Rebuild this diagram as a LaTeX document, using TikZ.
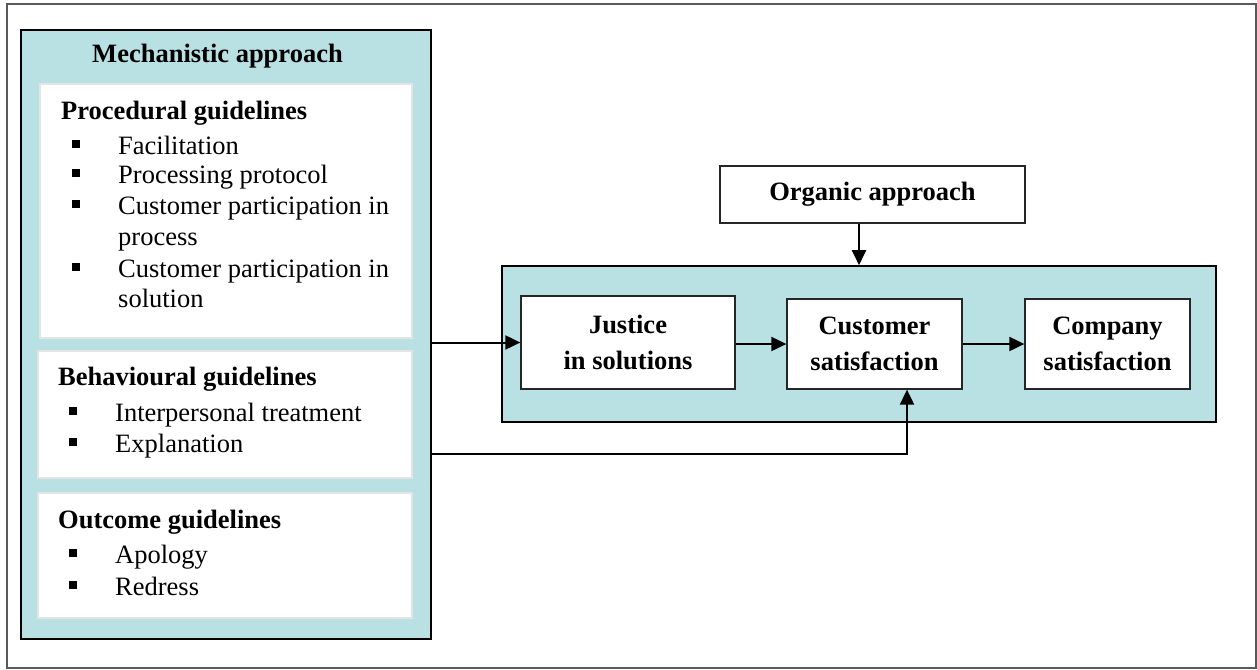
\documentclass[tikz,border=0pt]{standalone}
\usepackage{fontspec}
\setmainfont{Liberation Serif}
\usetikzlibrary{arrows.meta,calc}
\definecolor{teal}{RGB}{185,224,227}
\definecolor{wborder}{RGB}{228,228,228}
\begin{document}
\begin{tikzpicture}[x=1pt,y=-1pt,
  txt/.style={inner sep=0pt,anchor=base west,font=\fontsize{26.5}{30}\selectfont},
  head/.style={txt,font=\fontsize{26.5}{30}\selectfont\bfseries},
  bul/.style={fill=black,inner sep=0pt,minimum size=7.8pt},
  panel/.style={draw=black,line width=1.8pt,fill=teal,inner sep=0pt},
  wbox/.style={draw=wborder,line width=2pt,fill=white,inner sep=0pt},
  sbox/.style={draw=black!85,line width=1.3pt,fill=white,inner sep=0pt,align=center,
     font=\fontsize{26.5}{36}\selectfont\bfseries},
  arr/.style={line width=2pt,-{Triangle[length=15pt,width=14pt]}},
  ln/.style={line width=2pt}]
\useasboundingbox (0,0) rectangle (1257,669);
\node[draw=black!65,line width=1.8pt,inner sep=0pt,minimum width=1249pt,minimum height=664pt] (frame) at (631.5,336) {};
% left panel
\node[panel,minimum width=410pt,minimum height=609pt] (mech) at (226,334.5) {};
\node[wbox,minimum width=372pt,minimum height=254pt] (proc) at (226,211) {};
\node[wbox,minimum width=374pt,minimum height=127pt] (beh) at (225,414.5) {};
\node[wbox,minimum width=374pt,minimum height=125pt] (out) at (225,555.5) {};
\node[head,anchor=base] (tmech) at (217.5,63) {Mechanistic approach};
% procedural
\node[head] (tproc) at (61,119) {Procedural guidelines};
\node[bul] (b1) at (76,144) {}; \node[txt] (p1) at (118,154) {Facilitation};
\node[bul] (b2) at (76,173) {}; \node[txt] (p2) at (118,183) {Processing protocol};
\node[bul] (b3) at (76,204) {}; \node[txt] (p3) at (118,214) {Customer participation in};
\node[txt] (p3b) at (118,245) {process};
\node[bul] (b4) at (76,267) {}; \node[txt] (p4) at (118,277) {Customer participation in};
\node[txt] (p4b) at (118,307) {solution};
% behavioural
\node[head] (tbeh) at (58,385) {Behavioural guidelines};
\node[bul] (b5) at (73,411) {}; \node[txt] (q1) at (115,421) {Interpersonal treatment};
\node[bul] (b6) at (73,442) {}; \node[txt] (q2) at (115,452) {Explanation};
% outcome
\node[head] (tout) at (58,528) {Outcome guidelines};
\node[bul] (b7) at (73,553) {}; \node[txt] (r1) at (115,563) {Apology};
\node[bul] (b8) at (73,585) {}; \node[txt] (r2) at (115,595) {Redress};
% right side
\node[sbox,minimum width=305pt,minimum height=57pt] (org) at (872.5,194.5) {Organic approach};
\node[panel,line width=1.6pt,minimum width=714pt,minimum height=156pt] (big) at (859,344) {};
\node[sbox,minimum width=214pt,minimum height=93pt] (just) at (628,342.5) {Justice\\in solutions};
\node[sbox,minimum width=175pt,minimum height=90pt] (cust) at (874.5,344) {Customer\\satisfaction};
\node[sbox,minimum width=165pt,minimum height=90pt] (comp) at (1107.5,344) {Company\\satisfaction};
% connectors
\coordinate (oa) at ([xshift=-13.5pt]org.south);
\draw[arr] (oa) -- (oa |- big.north);
\draw[arr] (mech.east |- just.west) -- (just.west);
\draw[arr] (just.east |- cust.west) -- (cust.west);
\draw[arr] (cust.east) -- (comp.west);
\coordinate (lowy) at (0,454);
\coordinate (cin) at ([xshift=32.5pt]cust.south);
\draw[arr] (mech.east |- lowy) -| (cin);
\end{tikzpicture}
\end{document}
